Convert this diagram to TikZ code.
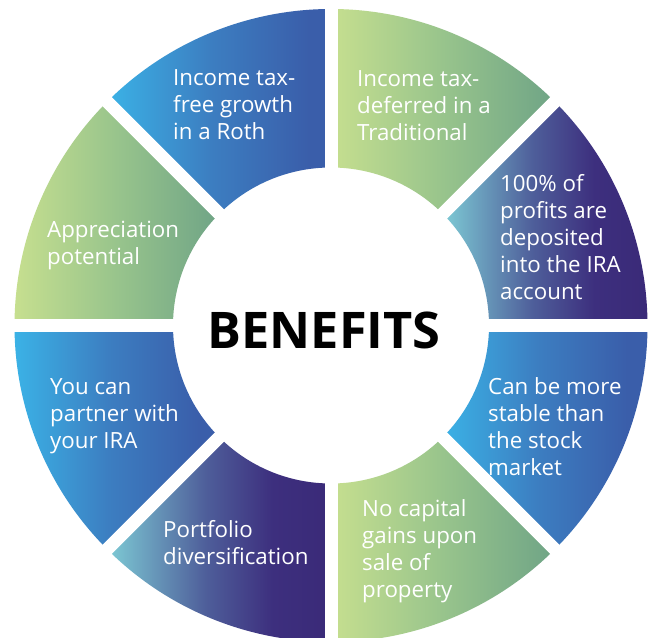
\documentclass[tikz,border=0pt]{standalone}
\usepackage{fontspec}
\setmainfont{Open Sans}

% segment colours
\definecolor{blueA}{RGB}{59,178,230}
\definecolor{blueB}{RGB}{60,126,193}
\definecolor{blueC}{RGB}{58,94,170}
\definecolor{greenA}{RGB}{198,223,143}
\definecolor{greenB}{RGB}{152,196,140}
\definecolor{greenC}{RGB}{111,164,134}
\definecolor{purpA}{RGB}{126,203,213}
\definecolor{purpB}{RGB}{78,94,154}
\definecolor{purpC}{RGB}{61,47,126}
\definecolor{purpD}{RGB}{58,42,120}

% left-to-right gradients, mapped onto each segment's bounding box
\pgfdeclarehorizontalshading{blueseg}{100bp}{color(0bp)=(blueA); color(25bp)=(blueA); color(48bp)=(blueB); color(70bp)=(blueC); color(100bp)=(blueC)}
\pgfdeclarehorizontalshading{greenseg}{100bp}{color(0bp)=(greenA); color(25bp)=(greenA); color(50bp)=(greenB); color(75bp)=(greenC); color(100bp)=(greenC)}
\pgfdeclarehorizontalshading{purpseg}{100bp}{color(0bp)=(purpA); color(25bp)=(purpA); color(47bp)=(purpB); color(62bp)=(purpC); color(75bp)=(purpD); color(100bp)=(purpD)}

\def\ringout{316.5}
\def\ringin{158}
% ring sector from angle #1 to #2, shaded with #3
\newcommand\ringsector[3]{%
  \shade[shading=#3] (#1:\ringout) arc[start angle=#1, end angle=#2, radius=\ringout]
    -- (#2:\ringin) arc[start angle=#2, end angle=#1, radius=\ringin] -- cycle;}

\tikzset{
  gapline/.style={white, line width=13pt},
  % anchored at the baseline of the last line
  label/.style={text=white, anchor=base west, align=left, inner sep=0pt,
    font=\fontsize{22.3}{27}\selectfont},
  title/.style={text=black, anchor=base, inner sep=0pt,
    font=\fontsize{50.5}{60}\selectfont\bfseries}
}

\begin{document}
\begin{tikzpicture}[x=1pt,y=1pt]
  \useasboundingbox (0,0) rectangle (652,637);
  \clip (0,0) rectangle (652,637);
  \fill[white] (0,0) rectangle (652,637);

  \begin{scope}[shift={(331,311.5)}]
    \ringsector{0}{45}{purpseg}
    \ringsector{45}{90}{greenseg}
    \ringsector{90}{135}{blueseg}
    \ringsector{135}{180}{greenseg}
    \ringsector{180}{225}{blueseg}
    \ringsector{225}{270}{purpseg}
    \ringsector{270}{315}{greenseg}
    \ringsector{315}{360}{blueseg}
    % white gaps between the segments
    \foreach \a in {0,45,90,135}
      \draw[gapline] (\a:330) -- (\a+180:330);
  \end{scope}

  \node[title] (title) at (324,288) {BENEFITS};

  \node[label] (roth) at (173,497) {Income tax-\\free growth\\in a Roth};
  \node[label] (trad) at (357,496) {Income tax-\\deferred in a\\Traditional};
  \node[label] (appr) at (47,372) {Appreciation\\potential};
  \node[label] (prof) at (500,337) {100\% of\\profits are\\deposited\\into the IRA\\account};
  \node[label] (partner) at (50,189) {You can\\partner with\\your IRA};
  \node[label] (stable) at (488,162) {Can be more\\stable than\\the stock\\market};
  \node[label] (portf) at (163,73) {Portfolio\\diversification};
  \node[label] (nocap) at (362,40) {No capital\\gains upon\\sale of\\property};
\end{tikzpicture}
\end{document}
